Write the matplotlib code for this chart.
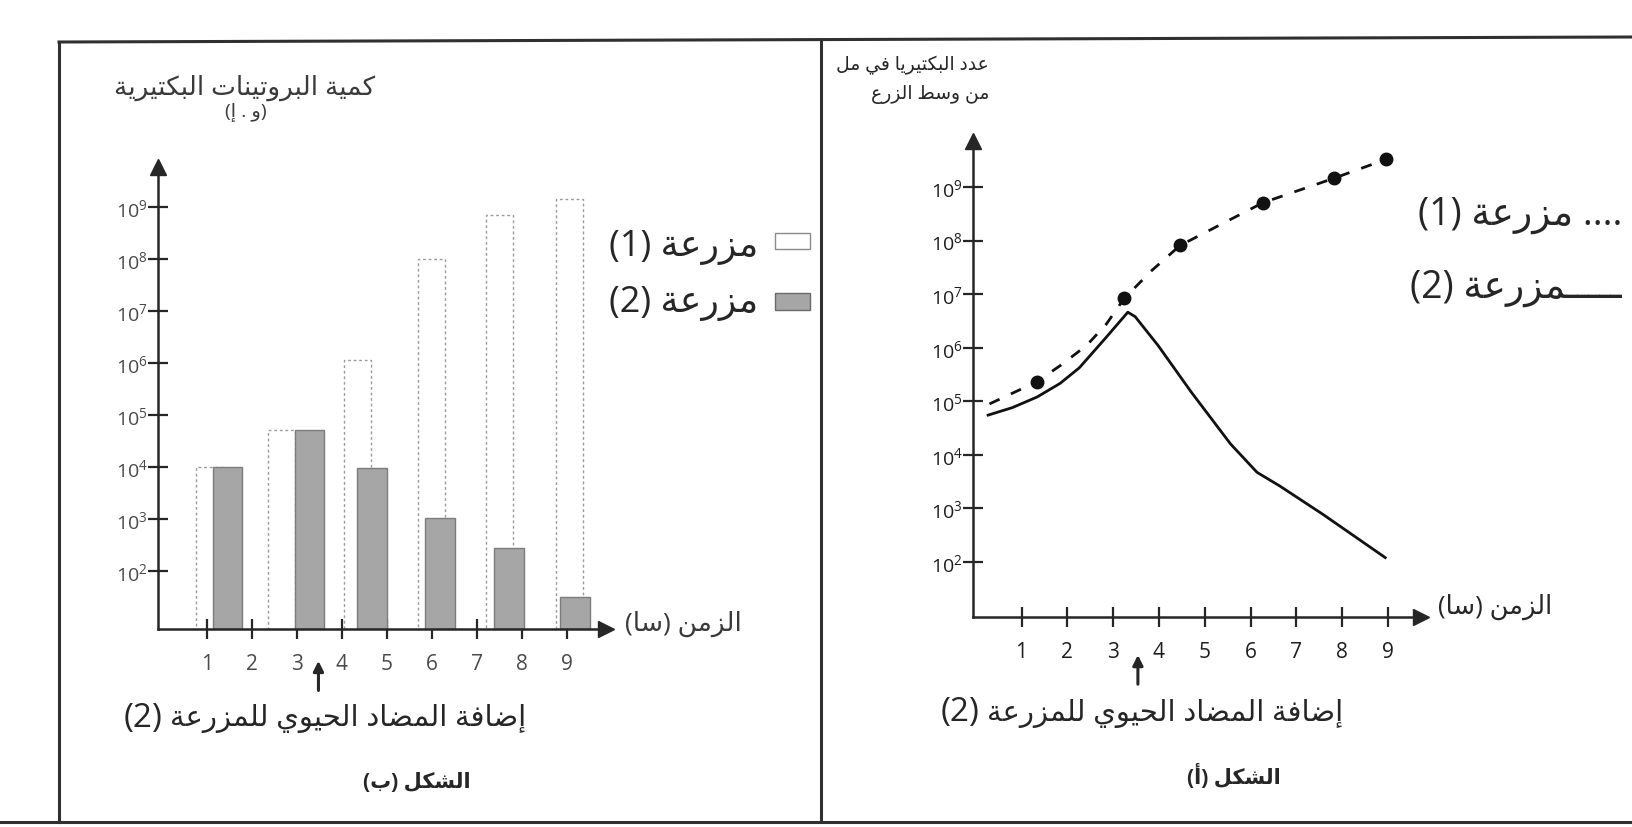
import re
import matplotlib
matplotlib.use('Agg')
import matplotlib.pyplot as plt
from matplotlib.lines import Line2D
from matplotlib.patches import Rectangle
from matplotlib.ticker import NullLocator

plt.rcParams['font.family'] = ['Open Sans', 'DejaVu Sans']
plt.rcParams['mathtext.fontset'] = 'custom'
plt.rcParams['mathtext.rm'] = 'Open Sans'

# ---- data -------------------------------------------------------------
HOURS = [1, 2, 3, 4, 5, 6, 7, 8, 9]
EXPONENTS = [2, 3, 4, 5, 6, 7, 8, 9]

# figure (ب): amount of bacterial proteins (arbitrary units)
prot_hours_1 = [1.06, 2.67, 4.35, 5.98, 7.50, 9.05]
prot_culture_1 = [1.0e4, 5.2e4, 1.15e6, 1.0e8, 7.0e8, 1.4e9]
prot_hours_2 = [1.46, 3.28, 4.67, 6.18, 7.70, 9.18]
prot_culture_2 = [1.0e4, 5.2e4, 9.3e3, 1.05e3, 2.8e2, 32]

# figure (أ): number of bacteria per ml of medium
count_hours_1 = [1.33, 3.24, 4.46, 6.27, 7.81, 8.96]
count_culture_1 = [2.3e5, 8.3e6, 8.1e7, 5.1e8, 1.45e9, 3.3e9]
curve_hours_1 = [0.30, 1.33, 1.84, 2.42, 2.85, 3.24, 3.84, 4.46, 6.27, 7.81, 8.96]
curve_culture_1 = [8.9e4, 2.3e5, 4.6e5, 1.1e6, 2.75e6, 8.3e6, 2.75e7, 8.1e7,
                   5.1e8, 1.45e9, 3.3e9]
curve_hours_2 = [0.27, 0.80, 1.34, 1.84, 2.26, 2.83, 3.32, 3.48, 3.98, 4.70,
                 5.56, 6.14, 6.64, 7.57, 8.94]
curve_culture_2 = [5.5e4, 7.6e4, 1.2e5, 2.15e5, 4.2e5, 1.5e6, 4.6e6, 3.8e6,
                   1.1e6, 1.5e5, 1.6e4, 4.7e3, 2.6e3, 7.8e2, 1.2e2]

ANTIBIOTIC_HOUR = [3.48, 3.54]

# ---- arabic shaping (presentation forms, right-to-left) ---------------
FORMS = {
    'ا': (0xFE8D, False), 'أ': (0xFE83, False), 'إ': (0xFE87, False),
    'ب': (0xFE8F, True), 'ة': (0xFE93, False), 'ت': (0xFE95, True),
    'ح': (0xFEA1, True), 'د': (0xFEA9, False), 'ر': (0xFEAD, False),
    'ز': (0xFEAF, False), 'س': (0xFEB1, True), 'ش': (0xFEB5, True),
    'ض': (0xFEBD, True), 'ط': (0xFEC1, True), 'ع': (0xFEC9, True),
    'ف': (0xFED1, True), 'ك': (0xFED9, True), 'ل': (0xFEDD, True),
    'م': (0xFEE1, True), 'ن': (0xFEE5, True), 'و': (0xFEED, False),
    'ي': (0xFEF1, True),
}
TATWEEL = 'ـ'


def rtl(text):
    out = []
    for i, ch in enumerate(text):
        if ch not in FORMS:
            out.append(ch)
            continue
        prev = text[i - 1] if i > 0 else ''
        nxt = text[i + 1] if i + 1 < len(text) else ''
        base, dual = FORMS[ch]
        join_prev = prev == TATWEEL or (prev in FORMS and FORMS[prev][1])
        join_next = dual and (nxt == TATWEEL or nxt in FORMS)
        if join_prev and join_next:
            out.append(chr(base + 3))
        elif join_next:
            out.append(chr(base + 2))
        elif join_prev:
            out.append(chr(base + 1))
        else:
            out.append(chr(base))
    vis = ''.join(reversed(out)).translate(str.maketrans('()', ')('))
    return re.sub(r'\d+', lambda m: m.group(0)[::-1], vis)


# ---- figure -------------------------------------------------------------
W, H = 1633, 828
INK = '#262626'
fig = plt.figure(figsize=(W / 100, H / 100), dpi=100)
fig.patch.set_facecolor('white')


def px(x, y):
    return x / W, 1 - y / H


def frame_line(x0, y0, x1, y1):
    (a, b), (c, d) = px(x0, y0), px(x1, y1)
    fig.add_artist(Line2D([a, c], [b, d], color='#303030', lw=2.2))


frame_line(59, 43, W, 38)
frame_line(59, 43, 59, 823)
frame_line(821, 41, 821, 823)
frame_line(0, 823, W, 823)


def make_axes(rect, xlim, ylim, tick_color):
    ax = fig.add_axes(rect)
    ax.set_yscale('log')
    ax.set_xlim(*xlim)
    ax.set_ylim(*ylim)
    ax.set_facecolor('none')
    for s in ('top', 'right'):
        ax.spines[s].set_visible(False)
    for s in ('left', 'bottom'):
        ax.spines[s].set_linewidth(1.8)
        ax.spines[s].set_color(INK)
    ax.plot(1, 0, '>', ms=11, color=INK, transform=ax.transAxes, clip_on=False)
    ax.plot(0, 1, '^', ms=11, color=INK, transform=ax.transAxes, clip_on=False)
    ax.set_xticks(HOURS)
    ax.set_xticklabels([str(h) for h in HOURS], fontsize=15, color=tick_color)
    ax.set_yticks([10.0 ** k for k in EXPONENTS])
    ax.set_yticklabels([r'$\mathregular{10^{%d}}$' % k for k in EXPONENTS],
                       fontsize=14, color=tick_color)
    ax.yaxis.set_minor_locator(NullLocator())
    ax.tick_params(direction='inout', length=15, width=1.6, color=INK)
    ax.tick_params(axis='x', pad=10)
    ax.tick_params(axis='y', pad=0)
    return ax


# figure (ب): bars
axb = make_axes([158 / W, 1 - 630 / H, 448 / W, 462 / H],
                (-0.08, 9.86), (10 ** 0.88, 10 ** 9.77), '#4a4a4a')
base_b = axb.get_ylim()[0]
axb.bar(prot_hours_1, [v - base_b for v in prot_culture_1], bottom=base_b,
        width=0.6, facecolor='white', edgecolor='#9a9a9a', linewidth=1.0,
        linestyle=(0, (2, 2)), zorder=1)
axb.bar(prot_hours_2, [v - base_b for v in prot_culture_2], bottom=base_b,
        width=0.66, facecolor='#a6a6a6', edgecolor='#7c7c7c', linewidth=1.0,
        zorder=2)

# figure (أ): growth curves
axa = make_axes([973 / W, 1 - 618 / H, 448 / W, 476 / H],
                (-0.06, 9.72), (10 ** 0.97, 10 ** 9.86), '#1e1e1e')
axa.plot(curve_hours_1, curve_culture_1, color='#111111', lw=2.0,
         dashes=(4, 4.5))
axa.plot(count_hours_1, count_culture_1, 'o', ms=9, color='#111111')
axa.plot(curve_hours_2, curve_culture_2, color='#111111', lw=2.0)

# antibiotic arrows under the time axis
for ax, hour, tip, tail in ((axb, ANTIBIOTIC_HOUR[0], -0.063, -0.139),
                            (axa, ANTIBIOTIC_HOUR[1], -0.074, -0.147)):
    ax.annotate('', xy=(hour, tip), xycoords=('data', 'axes fraction'),
                xytext=(hour, tail), textcoords=('data', 'axes fraction'),
                arrowprops=dict(arrowstyle='-|>,head_length=0.6,head_width=0.3',
                                color=INK, lw=2.2), annotation_clip=False)


# ---- texts --------------------------------------------------------------
def label(x, y, s, size, ha='center', va='center', color=INK, weight='normal'):
    return fig.text(*px(x, y), s, fontsize=size, ha=ha, va=va,
                    color=color, fontweight=weight)


# axis titles
label(245, 88, rtl('كمية البروتينات البكتيرية'), 19, color='#3a3a3a')
label(246, 112, rtl('(و . إ)'), 14, color='#3a3a3a')
label(989, 65, rtl('عدد البكتيريا في مل'), 13.5, ha='right')
label(989, 94, rtl('من وسط الزرع'), 13.5, ha='right')

# time axis labels
label(625, 624, rtl('الزمن (سا)'), 19, ha='left', color='#3a3a3a')
label(1438, 607, rtl('الزمن (سا)'), 18.5, ha='left')

# legend of figure (ب)
label(758, 256, rtl('مزرعة (1)'), 26, ha='right', va='baseline')
label(758, 312, rtl('مزرعة (2)'), 26, ha='right', va='baseline')
fig.add_artist(Rectangle(px(775, 250), 35 / W, 16 / H, facecolor='white',
                         edgecolor='#8a8a8a', lw=1.0, transform=fig.transFigure))
fig.add_artist(Rectangle(px(775, 311), 35 / W, 17 / H, facecolor='#a6a6a6',
                         edgecolor='#6a6a6a', lw=1.0, transform=fig.transFigure))

# legend of figure (أ)
label(1622, 225, rtl('.... مزرعة (1)'), 27, ha='right', va='baseline')
label(1622, 298, rtl('ـــــمزرعة (2)'), 27, ha='right', va='baseline')

# antibiotic notes
for ax, x, y in ((axb, 526, 719), (axa, 1343, 713)):
    note = label(x, y, rtl('إضافة المضاد الحيوي للمزرعة'), 21, ha='right')
    ax.annotate('(2)', xy=(0, 0.5), xycoords=note, xytext=(-5, 0),
                textcoords='offset points', fontsize=24, ha='right',
                va='center', color=INK, annotation_clip=False)

# captions
label(417, 783, rtl('الشكل (ب)'), 15, weight='bold')
label(1234, 776, rtl('الشكل (أ)'), 15, weight='bold')

fig.savefig('out.png', dpi=100, facecolor='white')
